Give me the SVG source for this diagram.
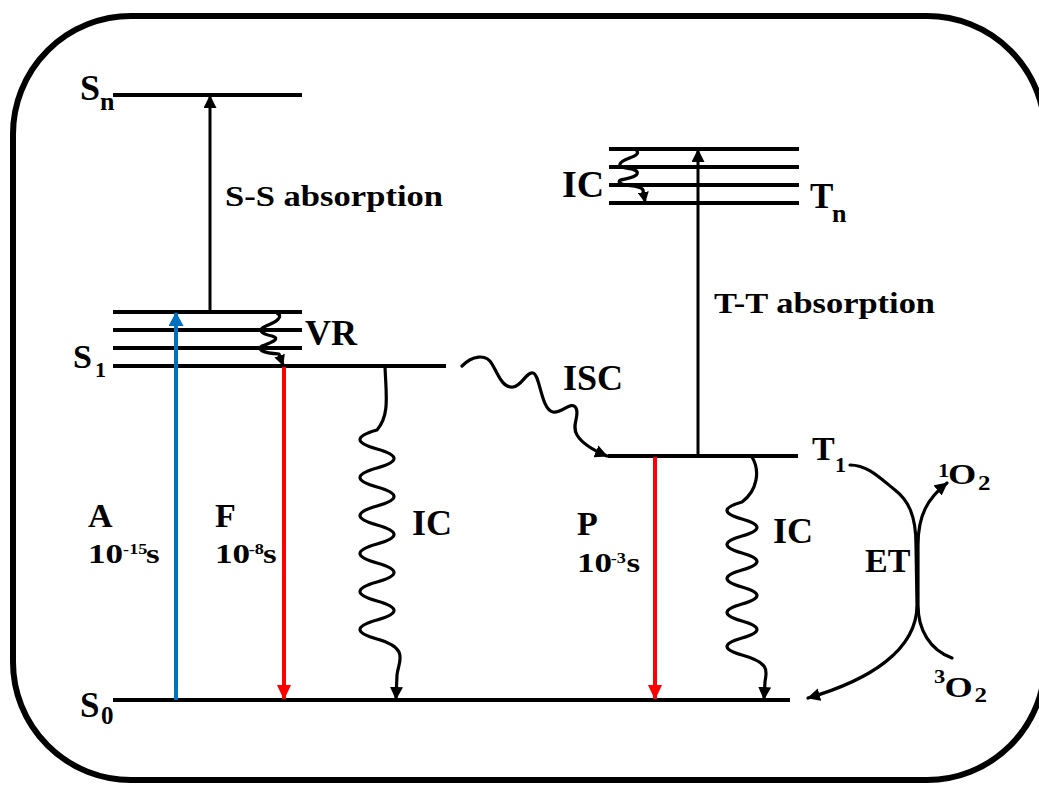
<svg xmlns="http://www.w3.org/2000/svg" width="1039" height="785" viewBox="0 0 1039 785">
<style>
.frame{fill:none;stroke:#000;stroke-width:6}
.lvl{stroke:#000;stroke-width:4;fill:none}
.arr{stroke:#000;stroke-width:3;fill:none}
.wav{stroke:#000;stroke-width:3.2;fill:none;stroke-linejoin:round;stroke-linecap:round}
.t{font-family:'Liberation Serif','DejaVu Serif','Times New Roman',serif;font-weight:bold;fill:#000}
</style>
<defs>
<marker id="ah" viewBox="0 0 13 13" markerWidth="13" markerHeight="13" refX="12" refY="6.5" orient="auto" markerUnits="userSpaceOnUse"><path d="M0,0 L13,6.5 L0,13 z" fill="#000"/></marker>
<marker id="ahs" viewBox="0 0 11 11" markerWidth="11" markerHeight="11" refX="10" refY="5.5" orient="auto" markerUnits="userSpaceOnUse"><path d="M0,0 L11,5.5 L0,11 z" fill="#000"/></marker>
<marker id="ahb" viewBox="0 0 14 15" markerWidth="14" markerHeight="15" refX="13" refY="7.5" orient="auto" markerUnits="userSpaceOnUse"><path d="M0,0 L14,7.5 L0,15 z" fill="#0070C0"/></marker>
<marker id="ahr" viewBox="0 0 15 14" markerWidth="15" markerHeight="14" refX="14" refY="7" orient="auto" markerUnits="userSpaceOnUse"><path d="M0,0 L15,7 L0,14 z" fill="#FF0000"/></marker>
</defs>
<rect class="frame" x="13" y="16" width="1032" height="764" rx="118" ry="118"/>

<g id="level-Sn">
<line class="lvl" x1="113" y1="95" x2="302" y2="95"/>
<text class="t" font-size="36"><tspan x="80" y="100">S</tspan><tspan x="100" y="110" font-size="26">n</tspan></text>
</g>
<g id="level-S1">
<line class="lvl" x1="113" y1="312" x2="302" y2="312"/>
<line class="lvl" x1="113" y1="330" x2="302" y2="330"/>
<line class="lvl" x1="113" y1="348" x2="302" y2="348"/>
<line class="lvl" x1="113" y1="366" x2="446" y2="366"/>
<text class="t" font-size="34"><tspan x="73" y="368">S</tspan><tspan x="95" y="377" font-size="22">1</tspan></text>
</g>
<g id="level-S0">
<line class="lvl" x1="113" y1="700" x2="790" y2="700"/>
<text class="t" font-size="35"><tspan x="80" y="717">S</tspan><tspan x="101" y="724" font-size="25">0</tspan></text>
</g>
<g id="level-Tn">
<line class="lvl" x1="609" y1="149" x2="799" y2="149"/>
<line class="lvl" x1="609" y1="167" x2="799" y2="167"/>
<line class="lvl" x1="609" y1="185" x2="799" y2="185"/>
<line class="lvl" x1="609" y1="203" x2="799" y2="203"/>
<text class="t" font-size="35"><tspan x="810" y="208">T</tspan><tspan x="832" y="222" font-size="26">n</tspan></text>
</g>
<g id="level-T1">
<line class="lvl" x1="608" y1="456" x2="798" y2="456"/>
<text class="t" font-size="34"><tspan x="812" y="460">T</tspan><tspan x="835" y="472" font-size="22">1</tspan></text>
</g>
<g id="oxygen-1O2">
<text class="t" transform="translate(938,0) scale(1.25,1)"><tspan x="0" y="477" font-size="18">1</tspan><tspan x="8" y="484" font-size="29">O</tspan><tspan x="32" y="490" font-size="20">2</tspan></text>
</g>
<g id="oxygen-3O2">
<text class="t" transform="translate(934,0) scale(1.25,1)"><tspan x="0" y="683" font-size="18">3</tspan><tspan x="8.5" y="697" font-size="29">O</tspan><tspan x="32.5" y="702" font-size="20">2</tspan></text>
</g>

<g id="connectors">
<line class="arr" x1="210" y1="312" x2="210" y2="96" marker-end="url(#ah)"/>
<line x1="176" y1="700" x2="176" y2="313" stroke="#0070C0" stroke-width="4" marker-end="url(#ahb)"/>
<line x1="284" y1="367" x2="284" y2="699" stroke="#FF0000" stroke-width="4" marker-end="url(#ahr)"/>
<line x1="655" y1="457" x2="655" y2="699" stroke="#FF0000" stroke-width="4" marker-end="url(#ahr)"/>
<line class="arr" x1="698" y1="456" x2="698" y2="150" marker-end="url(#ah)"/>
<path class="wav" d="M277,313 C284,317 276,322 266,326 C256,330 262,334 272,336 C282,339 270,343 262,346 C256,349 262,353 279,354 L283,365" marker-end="url(#ahs)"/>
<path class="wav" d="M637,151 C641,157 622,158 620,164 C618,170 640,167 637,174 C634,180 615,178 620,183 C624,187 640,184 643,190 L645,202" marker-end="url(#ahs)"/>
<path class="wav" d="M385,366 C386,395 390,415 377,430 Q343,439.5 377,449 T377,468 T377,487 T377,506 T377,525 T377,544 T377,563 T377,582 T377,601 T377,620 T377,639 C411,648.5 398,662 397,675 L396,699" marker-end="url(#ah)"/>
<path class="wav" d="M752,457 C760,470 758,490 742,502 Q712,510.5 742,519 T742,536 T742,553 T742,570 T742,587 T742,604 T742,621 T742,638 T742,655 C772,663.5 766,672 765,682 L764,699" marker-end="url(#ah)"/>
<path class="wav" d="M462,366 C472,356 486,353 492,364 C498,374 502,388 513,387 C522,386 526,372 533,373 C540,374 541,410 553,412 C562,414 571,400 576,408 C580,416 571,425 577,435 C583,445 595,451 607,456" marker-end="url(#ah)"/>
<path class="wav" d="M850,465 C868,465 880,478 895,490 C908,500 916,515 916,545 L917,605 C917,650 870,680 808,698" marker-end="url(#ah)"/>
<path class="wav" d="M952,658 C930,650 918,630 918,605 L918,545 C918,515 928,498 947,483" marker-end="url(#ah)"/>
</g>

<g id="labels">
<text class="t" x="225" y="206" font-size="29" textLength="218" lengthAdjust="spacingAndGlyphs">S-S absorption</text>
<text class="t" x="714" y="313" font-size="29" textLength="221" lengthAdjust="spacingAndGlyphs">T-T absorption</text>
<text class="t" x="305" y="345" font-size="36">VR</text>
<text class="t" x="562" y="197" font-size="38">IC</text>
<text class="t" x="563" y="390" font-size="36">ISC</text>
<text class="t" x="412" y="535" font-size="36">IC</text>
<text class="t" x="773" y="543" font-size="36">IC</text>
<text class="t" x="865" y="572" font-size="34">ET</text>
<text class="t" x="88" y="527" font-size="34">A</text>
<text class="t" x="215" y="527" font-size="34">F</text>
<text class="t" x="577" y="535" font-size="34">P</text>
<text class="t" transform="translate(88,563) scale(1.3,1)"><tspan x="0" y="0" font-size="27">10</tspan><tspan x="27" y="-9" font-size="14">-15</tspan><tspan x="44.6" y="0" font-size="27">s</tspan></text>
<text class="t" transform="translate(215,563) scale(1.3,1)"><tspan x="0" y="0" font-size="27">10</tspan><tspan x="26" y="-9" font-size="14">-8</tspan><tspan x="37" y="0" font-size="27">s</tspan></text>
<text class="t" transform="translate(577,572) scale(1.3,1)"><tspan x="0" y="0" font-size="27">10</tspan><tspan x="26" y="-9" font-size="14">-3</tspan><tspan x="38" y="0" font-size="27">s</tspan></text>
</g>
</svg>
